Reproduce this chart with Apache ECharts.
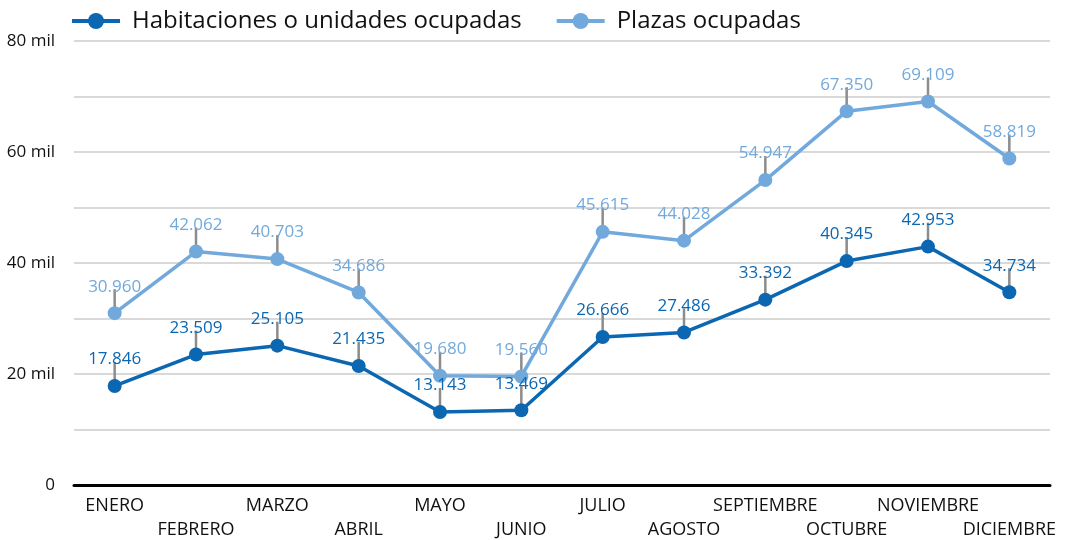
<!DOCTYPE html>
<html><head><meta charset="utf-8">
<script src="https://cdn.jsdelivr.net/npm/echarts@6/dist/echarts.min.js"></script>
<style>html,body{margin:0;padding:0;background:#fff}#c{width:1071px;height:540px}</style>
</head><body><div id="c"></div>
<script>
const categories = ['ENERO','FEBRERO','MARZO','ABRIL','MAYO','JUNIO','JULIO','AGOSTO','SEPTIEMBRE','OCTUBRE','NOVIEMBRE','DICIEMBRE'];
const habitaciones = [17846, 23509, 25105, 21435, 13143, 13469, 26666, 27486, 33392, 40345, 42953, 34734];
const plazas = [30960, 42062, 40703, 34686, 19680, 19560, 45615, 44028, 54947, 67350, 69109, 58819];
const seriesNames = ['Habitaciones o unidades ocupadas', 'Plazas ocupadas'];
const colors = ['#0b67b2', '#72a9dc'];
const FONT = '"Open Sans", "Noto Sans", sans-serif';

function fmt(v){ return String(v).replace(/\B(?=(\d{3})+(?!\d))/g, '.'); }

function tickSeries(data){
  return {
    type: 'custom', z: 1, silent: true,
    data: data.map((v,i)=>[i,v]),
    renderItem: function(params, api){
      const p = api.coord([api.value(0), api.value(1)]);
      return {type:'line', shape:{x1:p[0], y1:p[1]-24, x2:p[0], y2:p[1]-6},
        style:{stroke:'#8c8c8c', lineWidth:2.5}};
    }
  };
}
function lineSeries(name, data, color){
  return {
    name, type:'line', data, z: 3,
    symbol:'circle', symbolSize:14,
    lineStyle:{width:3.5, color}, itemStyle:{color},
    label:{show:true, position:'top', distance:11, color, fontFamily:FONT, fontSize:17,
      formatter: p => fmt(p.value)}
  };
}
const chart = echarts.init(document.getElementById('c'));
chart.setOption({
  animation:false,
  color: colors,
  legend:{top:4, left:65, itemWidth:48, itemHeight:20, itemGap:33,
    lineStyle:{width:4},
    textStyle:{fontFamily:FONT, fontSize:24, color:'#111', padding:[0,0,0,7]},
    data: seriesNames},
  grid:{left:74, right:21, top:41, bottom:55, outerBoundsMode:'none', containLabel:false},
  xAxis:{type:'category', data:categories, boundaryGap:true,
    axisLine:{lineStyle:{color:'#000', width:3}}, axisTick:{show:false},
    axisLabel:{interval:0, margin:9, fontFamily:FONT, fontSize:18, lineHeight:24, color:'#111',
      formatter:(v,i)=> i%2 ? '\n'+v : v}},
  yAxis:{type:'value', min:0, max:80000, interval:10000,
    axisLine:{show:false}, axisTick:{show:false},
    splitLine:{lineStyle:{color:'#d9d9d9', width:2}},
    axisLabel:{margin:19, fontFamily:FONT, fontSize:17, color:'#111',
      formatter: v => v===0 ? '0' : (v%20000===0 ? (v/1000)+' mil' : '')}},
  series:[
    tickSeries(habitaciones), tickSeries(plazas),
    lineSeries(seriesNames[0], habitaciones, colors[0]),
    lineSeries(seriesNames[1], plazas, colors[1])
  ]
});
</script></body></html>
